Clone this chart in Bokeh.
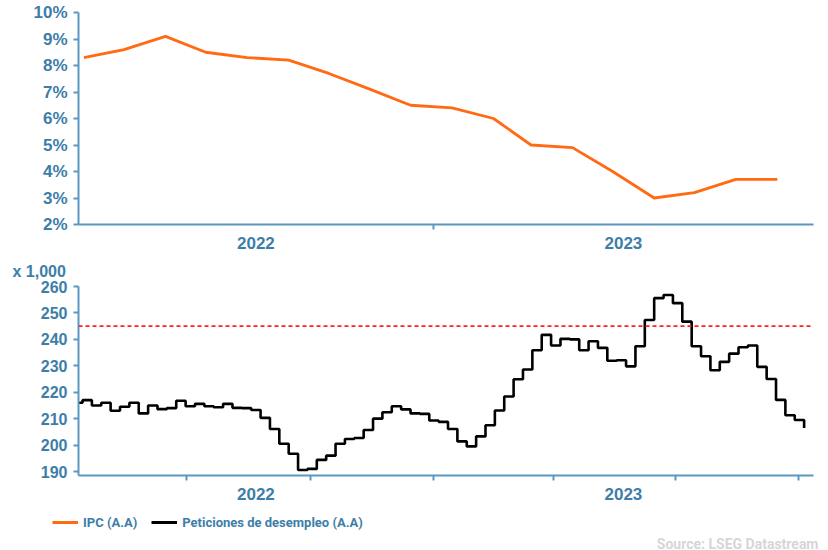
from datetime import datetime, timedelta
from bokeh.plotting import figure
from bokeh.layouts import column
from bokeh.models import (Range1d, FixedTicker, PrintfTickFormatter, Span, Legend,
                          LegendItem, Label, ColumnDataSource)
from bokeh.embed import file_html
from bokeh.resources import INLINE

# ---------------- data ----------------
cpi_months = ["2022-04", "2022-05", "2022-06", "2022-07", "2022-08", "2022-09",
              "2022-10", "2022-11", "2022-12", "2023-01", "2023-02", "2023-03",
              "2023-04", "2023-05", "2023-06", "2023-07", "2023-08", "2023-09"]
cpi_values = [8.3, 8.6, 9.1, 8.5, 8.3, 8.2, 7.7, 7.1, 6.5, 6.4, 6.0, 5.0,
              4.9, 4.0, 3.0, 3.2, 3.7, 3.7]

claims_start = "2022-04-07"
claims_values = [216, 217, 215, 216, 213, 214.5, 216, 212, 215, 213.6, 214,
                 216.8, 214.7, 215.6, 214.7, 214.3, 215.6, 214.1, 214, 213.3,
                 210.3, 206.1, 200.5, 196.7, 190.6, 191, 194.4, 196, 200.5,
                 202.3, 202.7, 205.7, 210, 212.4, 214.7, 213.5, 212, 211.8,
                 209.3, 208.8, 206.1, 201.4, 199.5, 203.3, 207.5, 213.1, 218.4,
                 224.9, 228.6, 235.9, 241.7, 237.7, 240.2, 240, 235.9, 239.3,
                 236.8, 231.9, 232.1, 229.8, 237.4, 247.3, 255.6, 256.8, 253.7,
                 246.7, 237.4, 233.6, 228.3, 231.5, 234.6, 237, 237.7, 229.6,
                 225, 217.1, 211.3, 209.5, 206.5]
threshold = 245

pct_ticks = [2, 3, 4, 5, 6, 7, 8, 9, 10]
claims_ticks = [190, 200, 210, 220, 230, 240, 250, 260]
year_labels = ["2022", "2023"]
quarter_starts = ["2022-07-01", "2022-10-01", "2023-01-01", "2023-04-01",
                  "2023-07-01", "2023-10-01"]
series_names = ["IPC (A.A)", "Peticiones de desempleo (A.A)"]

# ---------------- helpers ----------------
def ms(d):
    return (d - datetime(1970, 1, 1)).total_seconds() * 1000.0

cpi_dates = [datetime.strptime(m + "-15", "%Y-%m-%d") for m in cpi_months]
c0 = datetime.strptime(claims_start, "%Y-%m-%d")
claims_dates = [c0 + timedelta(days=7 * i) for i in range(len(claims_values))]

x_start = datetime(2022, 4, 11)
x_end = datetime(2023, 10, 12)
year_break = datetime(2023, 1, 1)
lab_pos = [(ms(x_start) + ms(year_break)) / 2, (ms(year_break) + ms(x_end)) / 2]

BLUE_TXT = "#3D7EA9"
BLUE_AX = "#5A98C0"
ORANGE = "#FF6A13"
FONT = "Liberation Sans"
LEG_FONT = "Roboto"

cpi_src = ColumnDataSource(dict(x=cpi_dates, y=cpi_values))
claims_src = ColumnDataSource(dict(x=claims_dates, y=claims_values))


def style_common(p):
    p.outline_line_color = None
    p.xgrid.visible = False
    p.ygrid.visible = False
    xa = p.xaxis[0]
    xa.axis_line_color = BLUE_AX
    xa.axis_line_width = 2
    xa.major_tick_out = 0
    xa.major_tick_in = 0
    xa.minor_tick_out = 5
    xa.minor_tick_in = 0
    xa.minor_tick_line_color = BLUE_AX
    xa.minor_tick_line_width = 2
    xa.major_label_text_color = BLUE_TXT
    xa.major_label_text_font = FONT
    xa.major_label_text_font_style = "bold"
    xa.major_label_text_font_size = "17px"
    xa.major_label_standoff = 7
    xa.major_label_overrides = {lab_pos[0]: year_labels[0], lab_pos[1]: year_labels[1]}
    ya = p.yaxis[0]
    ya.axis_line_color = BLUE_AX
    ya.axis_line_width = 2
    ya.major_tick_out = 5
    ya.major_tick_in = 0
    ya.major_tick_line_color = BLUE_AX
    ya.major_tick_line_width = 2
    ya.minor_tick_out = 0
    ya.minor_tick_in = 0
    ya.major_label_text_color = BLUE_TXT
    ya.major_label_text_font = FONT
    ya.major_label_text_font_style = "bold"
    ya.major_label_standoff = 6


# ---------------- top chart ----------------
p1 = figure(width=820, height=252, x_axis_type="datetime",
            x_range=Range1d(x_start, x_end), y_range=Range1d(2, 10),
            output_backend="svg", toolbar_location=None,
            min_border_left=78, min_border_right=7, min_border_top=12,
            min_border_bottom=28)
p1.line("x", "y", source=cpi_src, line_color=ORANGE, line_width=2.8)
p1.xaxis[0].ticker = FixedTicker(ticks=lab_pos, minor_ticks=[ms(year_break)])
p1.yaxis[0].ticker = FixedTicker(ticks=pct_ticks)
p1.yaxis[0].formatter = PrintfTickFormatter(format="%d%%")
style_common(p1)
p1.yaxis[0].major_label_text_font_size = "17px"

# ---------------- bottom chart ----------------
p2 = figure(width=820, height=256, x_axis_type="datetime",
            x_range=Range1d(x_start, x_end), y_range=Range1d(188.5, 260),
            output_backend="svg", toolbar_location=None,
            min_border_left=78, min_border_right=7, min_border_top=34,
            min_border_bottom=33)
p2.step("x", "y", source=claims_src, mode="after", line_color="black", line_width=2.6)
p2.add_layout(Span(location=threshold, dimension="width", line_color="#FF2020",
                   line_width=1.6, line_dash="4 3"))
p2.xaxis[0].ticker = FixedTicker(ticks=lab_pos,
                                 minor_ticks=[ms(datetime.strptime(q, "%Y-%m-%d")) for q in quarter_starts])
p2.yaxis[0].ticker = FixedTicker(ticks=claims_ticks)
style_common(p2)
p2.yaxis[0].major_label_text_font_size = "16px"

p2.title.text = "x 1,000"
p2.title.align = "left"
p2.title.offset = -66
p2.title.text_font = FONT
p2.title.text_font_style = "bold"
p2.title.text_font_size = "16px"
p2.title.text_color = BLUE_TXT
p2.title.standoff = 14

# ---------------- legend + source strip ----------------
p3 = figure(width=820, height=42, x_range=Range1d(x_start, x_end), y_range=Range1d(0, 1),
            output_backend="svg", toolbar_location=None,
            x_axis_location=None, y_axis_location=None,
            min_border_left=0, min_border_right=0, min_border_top=0, min_border_bottom=0)
p3.frame_align = False
p3.outline_line_color = None
p3.xgrid.visible = False
p3.ygrid.visible = False
lr1 = p3.line("x", "y", source=cpi_src, line_color=ORANGE, line_width=3, visible=False)
lr2 = p3.line("x", "y", source=claims_src, line_color="black", line_width=3, visible=False)
legend = Legend(items=[LegendItem(label=series_names[0], renderers=[lr1]),
                       LegendItem(label=series_names[1], renderers=[lr2])],
                orientation="horizontal", location=(52, 20),
                label_text_font=LEG_FONT, label_text_font_style="bold",
                label_text_font_size="13px", label_text_color=BLUE_TXT,
                glyph_width=26, glyph_height=16, label_standoff=5, spacing=14,
                label_height=16, padding=0, margin=0, border_line_color=None,
                background_fill_alpha=0)
p3.add_layout(legend, "center")
p3.add_layout(Label(x=818, y=7, x_units="screen", y_units="screen",
                    text="Source: LSEG Datastream", text_font=LEG_FONT, text_font_style="bold",
                    text_font_size="14px", text_color="#D6D6D6",
                    text_baseline="middle", text_align="right"))

layout = column(p1, p2, p3, spacing=0)
open("out.html", "w").write(file_html(layout, INLINE))
